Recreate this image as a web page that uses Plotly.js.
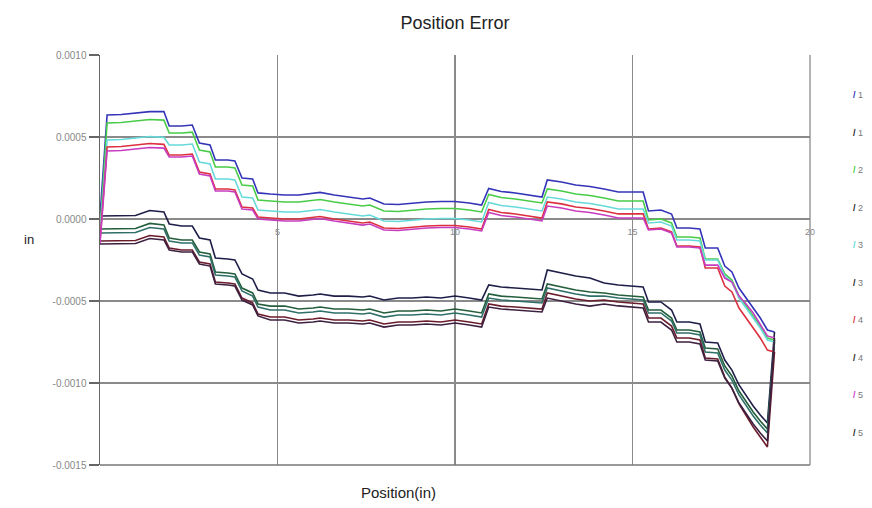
<!DOCTYPE html>
<html>
<head>
<meta charset="utf-8">
<script src="https://cdn.plot.ly/plotly-3.0.1.min.js"></script>
<style>html,body{margin:0;padding:0;background:#fff;overflow:hidden}#chart{width:872px;height:508px}</style>
</head>
<body>
<div id="chart"></div>
<script>
// Position along travel (in)
const xPos = [0,0.2,0.6,1.0,1.4,1.8,1.95,2.3,2.6,2.8,3.1,3.25,3.6,3.8,4.0,4.3,4.45,4.8,5.2,5.6,6.0,6.2,6.6,7.0,7.4,7.6,8.0,8.4,8.8,9.2,9.6,10.0,10.4,10.75,10.95,11.3,11.7,12.1,12.45,12.6,13.0,13.4,13.8,14.2,14.6,15.0,15.3,15.45,15.8,16.1,16.25,16.6,16.9,17.05,17.4,17.6,17.8,18.0,18.2,18.4,18.6,18.8,19.0];

const fwd1 = [0.000018,0.000634,0.000637,0.000646,0.000655,0.000655,0.000567,0.000567,0.000573,0.000463,
 0.000451,0.000360,0.000360,0.000354,0.000250,0.000244,0.000159,0.000152,0.000146,0.000146,
 0.000159,0.000162,0.000146,0.000134,0.000122,0.000128,0.000091,0.000088,0.000098,0.000104,
 0.000107,0.000107,0.000098,0.000085,0.000186,0.000168,0.000159,0.000146,0.000134,0.000238,
 0.000226,0.000207,0.000198,0.000183,0.000165,0.000165,0.000165,0.000049,0.000055,0.000030,
 -0.000055,-0.000055,-0.000061,-0.000177,-0.000177,-0.000287,-0.000323,-0.000421,-0.000482,-0.000537,
 -0.000604,-0.000677,-0.000689];
const rev1 = [0.000018,0.000018,0.000018,0.000021,0.000052,0.000043,-0.000030,-0.000043,-0.000043,-0.000116,
 -0.000128,-0.000238,-0.000244,-0.000250,-0.000335,-0.000366,-0.000433,-0.000451,-0.000451,-0.000470,
 -0.000463,-0.000457,-0.000470,-0.000470,-0.000476,-0.000470,-0.000494,-0.000482,-0.000482,-0.000476,
 -0.000482,-0.000470,-0.000482,-0.000494,-0.000402,-0.000415,-0.000421,-0.000427,-0.000433,-0.000311,
 -0.000329,-0.000348,-0.000360,-0.000390,-0.000402,-0.000409,-0.000415,-0.000506,-0.000506,-0.000555,
 -0.000628,-0.000628,-0.000640,-0.000750,-0.000756,-0.000860,-0.000921,-0.001012,-0.001079,-0.001140,
 -0.001195,-0.001244,-0.000689];
const fwd2 = [-0.000067,0.000585,0.000588,0.000596,0.000607,0.000603,0.000524,0.000524,0.000530,0.000421,
 0.000409,0.000317,0.000317,0.000311,0.000207,0.000201,0.000116,0.000110,0.000104,0.000104,
 0.000116,0.000119,0.000104,0.000091,0.000079,0.000085,0.000049,0.000046,0.000055,0.000061,
 0.000064,0.000064,0.000055,0.000043,0.000149,0.000131,0.000122,0.000110,0.000098,0.000183,
 0.000171,0.000152,0.000143,0.000128,0.000110,0.000110,0.000110,-0.000006,0.000000,-0.000024,
 -0.000110,-0.000110,-0.000116,-0.000244,-0.000244,-0.000335,-0.000372,-0.000470,-0.000531,-0.000585,
 -0.000653,-0.000726,-0.000738];
const rev2 = [-0.000061,-0.000061,-0.000061,-0.000058,-0.000027,-0.000037,-0.000116,-0.000128,-0.000128,-0.000201,
 -0.000213,-0.000323,-0.000329,-0.000335,-0.000421,-0.000451,-0.000518,-0.000531,-0.000531,-0.000549,
 -0.000543,-0.000537,-0.000549,-0.000549,-0.000555,-0.000549,-0.000573,-0.000561,-0.000561,-0.000555,
 -0.000561,-0.000549,-0.000561,-0.000573,-0.000457,-0.000470,-0.000476,-0.000482,-0.000488,-0.000396,
 -0.000415,-0.000433,-0.000445,-0.000451,-0.000463,-0.000470,-0.000476,-0.000555,-0.000555,-0.000604,
 -0.000677,-0.000677,-0.000689,-0.000787,-0.000793,-0.000896,-0.000957,-0.001049,-0.001116,-0.001177,
 -0.001232,-0.001281,-0.000738];
const fwd3 = [-0.000085,0.000482,0.000485,0.000494,0.000503,0.000498,0.000451,0.000451,0.000457,0.000348,
 0.000335,0.000244,0.000244,0.000238,0.000134,0.000128,0.000055,0.000049,0.000043,0.000043,
 0.000055,0.000058,0.000043,0.000030,0.000018,0.000024,-0.000012,-0.000015,-0.000006,0.000000,
 0.000003,0.000003,-0.000006,-0.000018,0.000101,0.000082,0.000073,0.000061,0.000049,0.000134,
 0.000122,0.000104,0.000095,0.000079,0.000061,0.000061,0.000061,-0.000024,-0.000018,-0.000043,
 -0.000128,-0.000128,-0.000134,-0.000250,-0.000250,-0.000348,-0.000384,-0.000482,-0.000543,-0.000598,
 -0.000665,-0.000738,-0.000750];
const rev3 = [-0.000085,-0.000085,-0.000085,-0.000082,-0.000052,-0.000061,-0.000134,-0.000146,-0.000146,-0.000220,
 -0.000232,-0.000342,-0.000348,-0.000354,-0.000439,-0.000470,-0.000537,-0.000555,-0.000555,-0.000573,
 -0.000567,-0.000561,-0.000573,-0.000573,-0.000579,-0.000573,-0.000598,-0.000585,-0.000585,-0.000579,
 -0.000585,-0.000573,-0.000585,-0.000598,-0.000482,-0.000494,-0.000500,-0.000506,-0.000512,-0.000421,
 -0.000439,-0.000457,-0.000470,-0.000470,-0.000482,-0.000488,-0.000494,-0.000573,-0.000573,-0.000622,
 -0.000695,-0.000695,-0.000707,-0.000811,-0.000817,-0.000921,-0.000982,-0.001073,-0.001140,-0.001201,
 -0.001256,-0.001305,-0.000750];
const fwd4 = [-0.000134,0.000439,0.000442,0.000451,0.000460,0.000455,0.000390,0.000390,0.000396,0.000287,
 0.000274,0.000183,0.000183,0.000177,0.000073,0.000067,0.000012,0.000006,0.000000,0.000000,
 0.000012,0.000015,0.000000,-0.000012,-0.000024,-0.000018,-0.000055,-0.000058,-0.000049,-0.000043,
 -0.000040,-0.000040,-0.000049,-0.000061,0.000058,0.000040,0.000031,0.000018,0.000006,0.000104,
 0.000092,0.000073,0.000064,0.000049,0.000031,0.000031,0.000031,-0.000061,-0.000055,-0.000079,
 -0.000165,-0.000165,-0.000171,-0.000299,-0.000299,-0.000409,-0.000445,-0.000543,-0.000604,-0.000659,
 -0.000726,-0.000799,-0.000811];
const rev4 = [-0.000134,-0.000134,-0.000134,-0.000131,-0.000101,-0.000110,-0.000177,-0.000189,-0.000189,-0.000262,
 -0.000274,-0.000384,-0.000390,-0.000396,-0.000482,-0.000512,-0.000579,-0.000598,-0.000598,-0.000616,
 -0.000610,-0.000604,-0.000616,-0.000616,-0.000622,-0.000616,-0.000640,-0.000628,-0.000628,-0.000622,
 -0.000628,-0.000616,-0.000628,-0.000640,-0.000518,-0.000531,-0.000537,-0.000543,-0.000549,-0.000451,
 -0.000470,-0.000488,-0.000500,-0.000494,-0.000506,-0.000512,-0.000518,-0.000604,-0.000604,-0.000653,
 -0.000726,-0.000726,-0.000738,-0.000848,-0.000854,-0.000964,-0.001031,-0.001128,-0.001201,-0.001268,
 -0.001329,-0.001390,-0.000811];
const fwd5 = [-0.000152,0.000415,0.000418,0.000427,0.000436,0.000432,0.000378,0.000378,0.000384,0.000274,
 0.000262,0.000171,0.000171,0.000165,0.000061,0.000055,0.000000,-0.000006,-0.000012,-0.000012,
 0.000000,0.000003,-0.000012,-0.000024,-0.000037,-0.000031,-0.000067,-0.000070,-0.000061,-0.000055,
 -0.000052,-0.000052,-0.000061,-0.000073,0.000040,0.000021,0.000012,0.000000,-0.000012,0.000079,
 0.000067,0.000049,0.000040,0.000024,0.000006,0.000006,0.000006,-0.000067,-0.000061,-0.000085,
 -0.000171,-0.000171,-0.000177,-0.000281,-0.000281,-0.000360,-0.000384,-0.000470,-0.000518,-0.000573,
 -0.000640,-0.000713,-0.000726];
const rev5 = [-0.000152,-0.000152,-0.000152,-0.000149,-0.000119,-0.000128,-0.000189,-0.000201,-0.000201,-0.000274,
 -0.000287,-0.000396,-0.000402,-0.000409,-0.000494,-0.000524,-0.000591,-0.000616,-0.000616,-0.000634,
 -0.000628,-0.000622,-0.000634,-0.000634,-0.000640,-0.000634,-0.000659,-0.000646,-0.000646,-0.000640,
 -0.000646,-0.000634,-0.000646,-0.000659,-0.000537,-0.000549,-0.000555,-0.000561,-0.000567,-0.000482,
 -0.000500,-0.000518,-0.000531,-0.000518,-0.000530,-0.000537,-0.000543,-0.000628,-0.000628,-0.000677,
 -0.000750,-0.000750,-0.000762,-0.000860,-0.000866,-0.000970,-0.001031,-0.001122,-0.001189,-0.001250,
 -0.001305,-0.001354,-0.000726];

// legend labels as visible in the reference (only the leading digit is shown)
const seriesNames = ["1","1","2","2","3","3","4","4","5","5"];
const seriesValues = [fwd1, rev1, fwd2, rev2, fwd3, rev3, fwd4, rev4, fwd5, rev5];
const seriesColors = ["#3434b8","#1e1e48","#48cc48","#245e3c","#66dada","#2f6f68","#dc3040","#6a1c2c","#c83cc0","#3c2040"];
const legendSlash = ["#3434b8","#222222","#48cc48","#222222","#66dada","#222222","#dc3040","#222222","#c83cc0","#222222"];

const xTicks = [5,10,15,20];
const xTickText = ["5","10","15","20"];
const yTicks = [0.0010,0.0005,0,-0.0005,-0.0010,-0.0015];
const yTickText = ["0.0010","0.0005","0.0000","-0.0005","-0.0010","-0.0015"];

const traces = seriesValues.map((vals, i) => ({
  type: 'scatter', mode: 'lines', x: xPos, y: vals, name: seriesNames[i],
  line: {color: seriesColors[i], width: 1.6}, showlegend: false, hoverinfo: 'skip'
}));

const FONT = 'Liberation Sans, Arial, sans-serif';
const gridC = '#8a8a8a';
const annotations = [
  {text: 'in', xref: 'paper', yref: 'paper', x: -0.11, y: 0.55, showarrow: false,
   font: {family: FONT, size: 13, color: '#222'}},
  {text: 'Position(in)', xref: 'paper', yref: 'paper', x: 0.42, y: -0.066, yanchor: 'middle', showarrow: false,
   font: {family: FONT, size: 15, color: '#222'}}
];
seriesNames.forEach((nm, i) => {
  annotations.push({
    text: '<b><span style="color:' + legendSlash[i] + '">/</span></b> ' + nm,
    xref: 'paper', yref: 'paper', x: 1.058, y: 0.902 - i * 0.0915, xanchor: 'left', yanchor: 'middle',
    showarrow: false, font: {family: FONT, size: 9, color: '#777'}
  });
});

const layout = {
  width: 872, height: 508,
  margin: {l: 100, r: 62, t: 55, b: 43},
  paper_bgcolor: '#ffffff', plot_bgcolor: '#ffffff',
  font: {family: FONT},
  title: {text: 'Position Error', x: 0.5, xref: 'paper', y: 0.955, yanchor: 'middle',
          font: {family: FONT, size: 18, color: '#222'}},
  xaxis: {range: [0, 20], tickvals: xTicks, ticktext: xTickText, showgrid: true, gridcolor: gridC, gridwidth: 1.3,
          zeroline: false, showline: false, anchor: 'free', position: 0.6,
          ticks: 'outside', ticklen: 4, tickcolor: 'rgba(0,0,0,0)',
          tickfont: {size: 9, color: '#888'}, fixedrange: true},
  yaxis: {range: [-0.0015, 0.0010], tickvals: yTicks, ticktext: yTickText, showgrid: true, gridcolor: gridC, gridwidth: 1.3,
          zeroline: false, showline: true, linecolor: '#666', linewidth: 1.5,
          ticks: 'outside', ticklen: 10, tickcolor: '#666', tickwidth: 1.2,
          tickfont: {size: 10, color: '#888'}, fixedrange: true},
  shapes: [
    {type: 'line', xref: 'paper', yref: 'paper', x0: 0, x1: 1, y0: 0, y1: 0, line: {color: '#777', width: 1.5}},
    {type: 'line', xref: 'paper', yref: 'paper', x0: 1, x1: 1, y0: 0, y1: 1, line: {color: gridC, width: 1.3}}
  ],
  annotations: annotations,
  showlegend: false
};

Plotly.newPlot('chart', traces, layout, {displayModeBar: false, staticPlot: true});
</script>
</body>
</html>
